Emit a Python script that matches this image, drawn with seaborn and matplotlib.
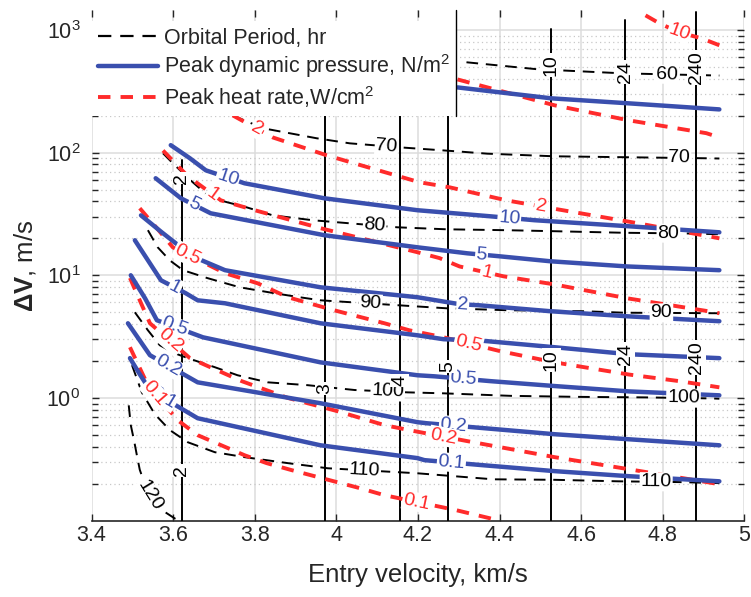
import numpy as np
import pandas as pd
import matplotlib
matplotlib.use("Agg")
import matplotlib.pyplot as plt
import seaborn as sns
from matplotlib.lines import Line2D
from matplotlib.transforms import IdentityTransform
from matplotlib.ticker import LogLocator, FixedLocator, NullFormatter, FuncFormatter

sns.set_theme(style="white")
plt.rcParams["font.family"] = ["Liberation Sans", "DejaVu Sans"]
plt.rcParams["mathtext.fontset"] = "custom"
plt.rcParams["mathtext.rm"] = "Liberation Sans"
plt.rcParams["mathtext.it"] = "Liberation Sans:italic"
plt.rcParams["mathtext.bf"] = "Liberation Sans:bold"
plt.rcParams["mathtext.default"] = "regular"

BLUE = "#3a4fae"
RED = "#ff2b2b"
INK = "#262626"

# ---------------- peak dynamic pressure contours (N/m^2) ----------------
q20_v = [4.297, 4.527, 4.718, 4.939]
q20_dv = [340, 277, 252, 225]
q10_v = [3.594, 3.641, 3.680, 3.775, 3.971, 4.199, 4.375, 4.486, 4.716, 4.939]
q10_dv = [115, 89.9, 71.7, 56.2, 42.4, 33.9, 30.3, 28.1, 25.1, 22.4]
q5_v = [3.557, 3.619, 3.692, 3.971, 4.199, 4.321, 4.398, 4.525, 4.713, 4.939]
q5_dv = [61.8, 42.4, 32.0, 21.2, 16.9, 15.1, 14.3, 13.0, 11.8, 11.0]
q2_v = [3.521, 3.572, 3.616, 3.646, 3.727, 3.961, 4.199, 4.302, 4.348, 4.525, 4.713, 4.939]
q2_dv = [30.8, 22.4, 17.2, 14.3, 11.0, 7.98, 6.62, 5.81, 5.70, 5.09, 4.63, 4.22]
q1_v = [3.506, 3.570, 3.631, 3.660, 3.727, 3.961, 4.199, 4.263, 4.346, 4.535, 4.718, 4.939]
q1_dv = [19.3, 9.1, 7.13, 6.25, 5.91, 4.06, 3.24, 3.01, 2.95, 2.59, 2.27, 2.11]
q05_v = [3.496, 3.531, 3.560, 3.673, 3.961, 4.199, 4.241, 4.378, 4.535, 4.718, 4.939]
q05_dv = [10.0, 6.49, 4.30, 3.12, 1.95, 1.53, 1.50, 1.37, 1.25, 1.13, 1.05]
q02_v = [3.489, 3.516, 3.543, 3.660, 3.961, 4.199, 4.221, 4.361, 4.535, 4.718, 4.939]
q02_dv = [4.06, 3.01, 2.23, 1.34, 0.905, 0.634, 0.622, 0.567, 0.506, 0.460, 0.411]
q01_v = [3.494, 3.518, 3.543, 3.660, 3.961, 4.199, 4.216, 4.358, 4.535, 4.718, 4.939]
q01_dv = [2.11, 1.56, 1.16, 0.683, 0.411, 0.323, 0.311, 0.283, 0.253, 0.230, 0.209]

# ---------------- peak heat rate contours (W/cm^2) ----------------
h10_v = [4.758, 4.792, 4.841, 4.895, 4.939]
h10_dv = [1315, 1132, 955, 855, 750]
h5_v = [4.297, 4.535, 4.718, 4.907, 4.939]
h5_dv = [395, 243, 183, 144, 133]
h2_v = [3.746, 3.844, 3.976, 4.204, 4.278, 4.417, 4.542, 4.724, 4.912, 4.939]
h2_dv = [201, 133, 95.1, 57.3, 52.1, 40.8, 34.5, 27.1, 20.8, 20.0]
h1_v = [3.575, 3.636, 3.717, 3.800, 3.961, 4.199, 4.253, 4.302, 4.410, 4.532, 4.713, 4.912, 4.939]
h1_dv = [104, 64.1, 40.8, 33.9, 24.2, 15.4, 13.8, 11.8, 9.8, 8.45, 6.49, 5.09, 4.90]
h05_v = [3.518, 3.560, 3.599, 3.727, 3.807, 3.881, 3.994, 4.118, 4.179, 4.263, 4.403, 4.535, 4.718, 4.841, 4.939]
h05_dv = [35.2, 24.2, 16.9, 10.4, 8.6, 6.62, 5.19, 4.06, 3.56, 3.12, 2.40, 1.95, 1.55, 1.37, 1.22]
h02_v = [3.494, 3.518, 3.543, 3.641, 3.768, 3.881, 4.003, 4.118, 4.179, 4.336, 4.535, 4.718, 4.939]
h02_dv = [9.5, 6.25, 4.06, 2.11, 1.37, 1.00, 0.779, 0.600, 0.546, 0.435, 0.329, 0.262, 0.198]
h01_v = [3.494, 3.516, 3.538, 3.611, 3.660, 3.775, 3.829, 3.890, 4.057, 4.118, 4.292, 4.400]
h01_dv = [2.59, 1.81, 1.27, 0.658, 0.497, 0.341, 0.294, 0.258, 0.184, 0.161, 0.122, 0.100]

# ---------------- dashed black contours ----------------
p60_v = [4.319, 4.493, 4.701, 4.865, 4.939]
p60_dv = [545, 478, 443, 430, 425]
p70_v = [3.746, 3.820, 3.951, 4.033, 4.162, 4.302, 4.370, 4.535, 4.718, 4.907, 4.939]
p70_dv = [201, 158, 131, 119, 110, 102, 98, 93.3, 91.6, 89.9, 89.5]
p80_v = [3.575, 3.604, 3.648, 3.690, 3.732, 3.780, 3.844, 3.942, 4.150, 4.270, 4.417, 4.525, 4.706, 4.870, 4.939]
p80_dv = [98.7, 78.8, 57.3, 43.2, 39.4, 35.8, 30.8, 28.1, 24.6, 23.7, 23.3, 22.9, 22.2, 21.9, 21.6]
p90_v = [3.538, 3.562, 3.592, 3.624, 3.683, 3.763, 3.849, 3.910, 3.961, 4.150, 4.270, 4.417, 4.608, 4.706, 4.863, 4.939]
p90_dv = [23.3, 16.9, 13.2, 11.0, 9.5, 7.98, 7.13, 6.62, 6.25, 5.70, 5.38, 5.19, 5.09, 4.95, 4.92, 4.90]
p100_v = [3.506, 3.538, 3.567, 3.604, 3.636, 3.702, 3.758, 3.832, 3.930, 4.045, 4.175, 4.263, 4.427, 4.594, 4.758, 4.924, 4.939]
p100_dv = [4.99, 3.56, 2.69, 2.31, 2.11, 1.78, 1.53, 1.34, 1.27, 1.16, 1.11, 1.09, 1.04, 1.02, 1.01, 0.99, 0.985]
p110_v = [3.499, 3.523, 3.555, 3.592, 3.636, 3.702, 3.775, 3.881, 3.979, 4.199, 4.385, 4.535, 4.691, 4.841, 4.939]
p110_dv = [1.85, 1.11, 0.736, 0.546, 0.435, 0.361, 0.329, 0.294, 0.267, 0.243, 0.217, 0.215, 0.209, 0.206, 0.202]
p120_v = [3.491, 3.496, 3.504, 3.511, 3.518, 3.538, 3.572, 3.604, 3.615]
p120_dv = [0.87, 0.60, 0.45, 0.34, 0.26, 0.167, 0.122, 0.104, 0.100]

# ---------------- solid black (near-vertical) contours ----------------
period_levels = [2, 3, 4, 5, 10, 24, 240]
period_v = [3.621, 3.972, 4.155, 4.273, 4.527, 4.708, 4.882]
period_dv_top = [87, 1000, 1000, 1000, 1012, 1197, 1390]
period_dv_bottom = [0.1, 0.1, 0.1, 0.1, 0.1, 0.1, 0.1]
period_label_dv = [[62, 0.258], [1.20], [1.39], [1.81], [515, 2.03], [451, 2.27], [493, 2.14]]

# tick positions
x_ticks = [3.4, 3.6, 3.8, 4.0, 4.2, 4.4, 4.6, 4.8, 5.0]
y_ticks = [1, 10, 100, 1000]

# curves: (level, v, dv, label x positions)
pressure = [
    (20, q20_v, q20_dv, []),
    (10, q10_v, q10_dv, [3.734, 4.424]),
    (5, q5_v, q5_dv, [3.651, 4.356]),
    (2, q2_v, q2_dv, [4.31]),
    (1, q1_v, q1_dv, [3.604]),
    (0.5, q05_v, q05_dv, [3.604, 4.312]),
    (0.2, q02_v, q02_dv, [3.587, 4.287]),
    (0.1, q01_v, q01_dv, [3.575, 4.282]),
]
heat = [
    (10, h10_v, h10_dv, [4.841]),
    (5, h5_v, h5_dv, []),
    (2, h2_v, h2_dv, [3.805, 4.501]),
    (1, h1_v, h1_dv, [3.697, 4.368]),
    (0.5, h05_v, h05_dv, [3.636, 4.324]),
    (0.2, h02_v, h02_dv, [3.592, 4.263]),
    (0.1, h01_v, h01_dv, [3.555, 4.197]),
]
orbit = [
    (60, p60_v, p60_dv, [4.811]),
    (70, p70_v, p70_dv, [4.123, 4.841]),
    (80, p80_v, p80_dv, [4.094, 4.814]),
    (90, p90_v, p90_dv, [4.084, 4.797]),
    (100, p100_v, p100_dv, [4.126, 4.851]),
    (110, p110_v, p110_dv, [4.069, 4.784]),
    (120, p120_v, p120_dv, [3.543]),
]


def to_frame(curves):
    rows = []
    for lvl, vs, dvs, _ in curves:
        for i, (v, dv) in enumerate(zip(vs, dvs)):
            rows.append({"level": lvl, "idx": i, "v": v, "dv": dv})
    return pd.DataFrame(rows)


vert_rows = []
for lvl, v, lo, hi in zip(period_levels, period_v, period_dv_bottom, period_dv_top):
    vert_rows.append({"level": lvl, "v": v, "dv": lo})
    vert_rows.append({"level": lvl, "v": v, "dv": hi})
vert_df = pd.DataFrame(vert_rows)

fig = plt.figure(figsize=(7.51, 5.97), dpi=100)
ax = fig.add_axes([0.122, 0.128, 0.869, 0.855])
ax.set_yscale("log")
ax.set_xlim(3.4, 5.0)
ax.set_ylim(0.1, 1450)

common = dict(units="level", estimator=None, sort=False, legend=False, ax=ax)
sns.lineplot(data=vert_df, x="v", y="dv", color="black", linewidth=1.4, zorder=3, **common)
sns.lineplot(data=to_frame(orbit), x="v", y="dv", color="black", linewidth=1.4,
             linestyle=(0, (6, 4)), zorder=4, **common)
sns.lineplot(data=to_frame(heat), x="v", y="dv", color=RED, linewidth=2.8,
             linestyle=(0, (3.2, 2.6)), zorder=5, **common)
sns.lineplot(data=to_frame(pressure), x="v", y="dv", color=BLUE, linewidth=3.2,
             zorder=6, **common)


def place_labels(curves, color, fmt):
    for lvl, vs, dvs, xs in curves:
        lv = np.log10(dvs)
        for xl in xs:
            yl = 10 ** np.interp(xl, vs, lv)
            xa, xb = xl - 0.01, xl + 0.01
            pa = ax.transData.transform((xa, 10 ** np.interp(xa, vs, lv)))
            pb = ax.transData.transform((xb, 10 ** np.interp(xb, vs, lv)))
            ang = np.degrees(np.arctan2(pb[1] - pa[1], pb[0] - pa[0]))
            ax.text(xl, yl, fmt(lvl), color=color, fontsize=14, rotation=ang,
                    rotation_mode="anchor", ha="center", va="center", zorder=8,
                    bbox=dict(boxstyle="square,pad=0.05", fc="white", ec="none"))


fmt = lambda v: f"{v:g}"
place_labels(pressure, BLUE, fmt)
place_labels(heat, RED, fmt)
place_labels(orbit, "black", fmt)
for lvl, v, dvs in zip(period_levels, period_v, period_label_dv):
    for dv in dvs:
        ax.text(v, dv, fmt(lvl), color="black", fontsize=14, rotation=90,
                ha="center", va="center", zorder=8,
                bbox=dict(boxstyle="square,pad=0.05", fc="white", ec="none"))

# axes styling
ax.set_xticks(x_ticks)
ax.xaxis.set_major_formatter(FuncFormatter(lambda v, _: f"{v:g}"))
ax.yaxis.set_major_locator(FixedLocator(y_ticks))
ax.yaxis.set_major_formatter(FuncFormatter(lambda v, _: f"$10^{{{int(round(np.log10(v)))}}}$"))
ax.yaxis.set_minor_locator(LogLocator(base=10, subs=np.arange(2, 10), numticks=20))
ax.yaxis.set_minor_formatter(NullFormatter())
ax.grid(True, which="major", color="#dcdcdc", linewidth=1.1, zorder=0)
ax.grid(True, which="minor", axis="y", color="#c8c8c8", linewidth=0.9, linestyle=(0, (1, 2.5)))
ax.set_axisbelow(True)
for s in ["left", "right", "top"]:
    ax.spines[s].set_visible(False)
ax.spines["bottom"].set_color(INK)
ax.spines["bottom"].set_linewidth(1.2)
ax.tick_params(axis="both", which="both", direction="in", colors=INK, labelcolor=INK,
               labelsize=15.5, left=True, right=True, top=True, bottom=True)
ax.tick_params(axis="both", which="major", length=5, width=1)
ax.tick_params(axis="y", which="minor", length=4, width=1)
ax.tick_params(axis="y", which="major", pad=8)
ax.set_xlabel("Entry velocity, km/s", fontsize=18.5, color=INK, labelpad=12)
ax.set_ylabel(r"$\mathbf{\Delta V}$, m/s", fontsize=18.5, color=INK, labelpad=6)

handles = [
    Line2D([], [], color="black", linewidth=1.6, linestyle=(0, (6, 4))),
    Line2D([], [], color=BLUE, linewidth=3.2),
    Line2D([], [], color=RED, linewidth=2.8, linestyle=(0, (3.2, 2.6))),
]
names = ["Orbital Period, hr", "Peak dynamic pressure, N/m$^2$", "Peak heat rate,W/cm$^2$"]
leg = ax.legend(handles, names, loc="upper left", bbox_to_anchor=(0.0, 0.978),
                fontsize=15.5, frameon=True, fancybox=False, handlelength=2.8,
                handletextpad=0.25, labelspacing=0.16, borderpad=0.3, borderaxespad=0.0)
leg.get_frame().set_facecolor("white")
leg.get_frame().set_edgecolor("none")
leg.get_frame().set_alpha(1.0)
leg.set_zorder(10)
for t in leg.get_texts():
    t.set_color(INK)

# white band above the legend up to the top of the plotting area, with a thin
# rule along the legend's right side
fig.canvas.draw()
lb = leg.get_window_extent()
ab = ax.get_window_extent()
leg.get_frame().set_bounds(lb.x0, lb.y0, lb.width, ab.y1 + 12 - lb.y0)
fig.add_artist(Line2D([lb.x1, lb.x1], [lb.y0, ab.y1], transform=IdentityTransform(),
                      color="black", linewidth=1.0, zorder=11))

fig.savefig("out.png", dpi=100)
